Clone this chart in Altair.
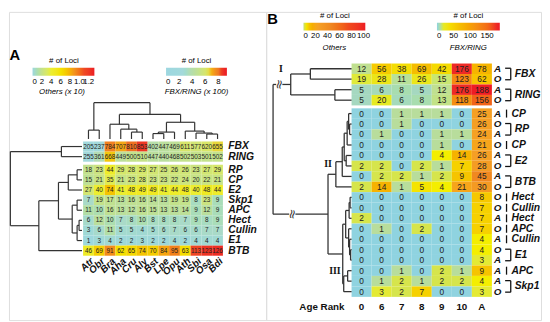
import altair as alt
import pandas as pd

FONT = "Liberation Sans"

# ================= Panel A : loci per species and family =================
A_species = ["Atr", "Obr", "Bra", "Aha", "Cru", "Aly", "Bst", "Lpe", "Opu", "Ath", "Sbi", "Osa", "Bdi"]
A_families = ["FBX", "RING", "RP", "CP", "E2", "Skp1", "APC", "Hect", "Cullin", "E1", "BTB"]
A_FBX = [205, 237, 784, 707, 810, 853, 402, 447, 469, 611, 577, 620, 655]
A_RING = [255, 361, 668, 449, 500, 510, 447, 440, 468, 502, 503, 501, 502]
A_RP = [18, 23, 44, 29, 28, 29, 27, 25, 26, 26, 23, 27, 29]
A_CP = [15, 21, 35, 21, 23, 28, 23, 23, 22, 24, 20, 22, 21]
A_E2 = [27, 40, 74, 41, 48, 49, 49, 41, 44, 48, 40, 48, 44]
A_Skp1 = [7, 19, 17, 13, 16, 16, 14, 13, 19, 19, 8, 23, 9]
A_APC = [11, 10, 16, 13, 12, 16, 15, 13, 13, 14, 9, 12, 9]
A_Hect = [6, 12, 10, 7, 8, 10, 8, 8, 8, 7, 9, 8, 9]
A_Cullin = [3, 6, 11, 5, 5, 4, 5, 6, 7, 6, 6, 7, 7]
A_E1 = [1, 3, 4, 2, 2, 3, 2, 2, 4, 2, 4, 4, 4]
A_BTB = [46, 69, 91, 62, 65, 74, 70, 84, 95, 63, 113, 123, 126]
A_counts = [A_FBX, A_RING, A_RP, A_CP, A_E2, A_Skp1, A_APC, A_Hect, A_Cullin, A_E1, A_BTB]

# clustering trees: leaf = index, node = (left, right, linkage distance)
A_row_tree = ((0, 1, 21),
              ((((2, 3, 5), 4, 14), ((5, 6, 5), ((7, 8, 3), 9, 5), 10), 24), 10, 44),
              73)
A_col_tree = ((0, 1, 9),
              ((2, (3, (4, 5, 7), 10), 15),
               (((6, 7, 5.5), 8, 7), (9, (10, (11, 12, 5), 6), 8), 17), 25),
              37)

# ================= Panel B : loci per age rank =================
B_age_rank = ["0", "6", "7", "8", "9", "10", "A"]
B_origin = ["A", "O", "A", "O", "A", "O", "A", "O", "A", "O", "A", "O",
            "O", "O", "A", "O", "A", "O", "A", "A", "A", "O"]
B_family = ["FBX", "FBX", "RING", "RING", "CP", "RP", "RP", "CP", "E2", "E2", "BTB", "BTB",
            "Hect", "Cullin", "Hect", "APC", "Cullin", "E1", "E1", "APC", "Skp1", "Skp1"]
B_counts = [
    [12, 56, 38, 69, 42, 176, 78],
    [19, 28, 11, 26, 15, 123, 62],
    [5, 6, 8, 5, 12, 176, 188],
    [5, 20, 6, 8, 13, 118, 156],
    [0, 0, 1, 1, 1, 0, 25],
    [0, 0, 1, 0, 0, 0, 26],
    [0, 1, 0, 0, 1, 1, 24],
    [0, 0, 0, 0, 1, 0, 21],
    [0, 0, 0, 0, 4, 14, 26],
    [2, 2, 0, 2, 1, 7, 28],
    [0, 2, 2, 1, 2, 9, 45],
    [2, 14, 1, 5, 4, 21, 30],
    [0, 0, 0, 0, 0, 0, 8],
    [0, 0, 0, 0, 0, 0, 7],
    [2, 0, 0, 0, 0, 0, 7],
    [0, 1, 0, 2, 0, 0, 7],
    [0, 0, 0, 0, 0, 0, 4],
    [0, 0, 0, 0, 0, 0, 4],
    [0, 0, 0, 0, 0, 0, 3],
    [0, 0, 1, 0, 2, 1, 9],
    [0, 1, 2, 1, 2, 2, 4],
    [0, 3, 2, 7, 0, 0, 3],
]
B_tree_I = ((0, 1, 42), (2, 3, 17), 62)
B_tree_II = (((((4, (5, 6, 2), 3), 7, 4.5), (8, 9, 5.5), 7.5), 10, 9.5), 11, 16)
B_tree_III = ((((12, 13, 1.5), 14, 2.5), (15, (16, (17, 18, 1), 2), 3), 6),
              ((19, 20, 4), 21, 8), 9)
B_tree_low = (B_tree_II, B_tree_III, 24)
B_tree = (B_tree_I, B_tree_low, 80)

# ================= layout =================
WA, WB, H = 262, 280, 314
A_XDOM, A_YDOM = [-6.89, 17.02], [-12.82, 17.67]
B_XDOM, B_YDOM = [-4.26, 9.45], [-4.93, 24.50]
A_GAP, B_GAP = 0.3, 0.28
A_KX, A_KY, B_K = 1 / 10.96, 1 / 10.3, 1 / 20.43
LINE = "#333333"

def a_top(i):
    return i + (A_GAP if i >= 2 else 0)

def b_top(i):
    return i + (B_GAP if i >= 4 else 0)

def walk(node, leafpos, segs):
    if isinstance(node, int):
        return leafpos(node), 0.0
    l, r, h = node
    pl, hl = walk(l, leafpos, segs)
    pr, hr = walk(r, leafpos, segs)
    segs += [(pl, pr, h, h), (pl, pl, hl, h), (pr, pr, hr, h)]
    return (pl + pr) / 2, h

def sc(dom, rev=False):
    return alt.Scale(domain=dom, nice=False, zero=False, reverse=rev)

def ax(f):
    return alt.X(f"{f}:Q", scale=sc(A_XDOM), axis=None)

def ay(f):
    return alt.Y(f"{f}:Q", scale=sc(A_YDOM, True), axis=None)

def bx(f):
    return alt.X(f"{f}:Q", scale=sc(B_XDOM), axis=None)

def by(f):
    return alt.Y(f"{f}:Q", scale=sc(B_YDOM, True), axis=None)

def leg(x, y, length, values, expr=None):
    kw = dict(orient="none", legendX=x, legendY=y, direction="horizontal", title="# of Loci",
              titleFontSize=8, titleFontWeight="normal", titleFont=FONT, titleAnchor="middle",
              titleOrient="top", titlePadding=3, titleColor="black",
              gradientLength=length, gradientThickness=8, gradientStrokeWidth=0,
              labelFontSize=8, labelFont=FONT, labelColor="black", labelOverlap=False,
              labelAlign="center", labelOffset=2, values=values)
    if expr:
        kw["labelExpr"] = expr
    return alt.Legend(**kw)

# ---------- panel A data frames ----------
recs = []
for i, (fam, vals) in enumerate(zip(A_families, A_counts)):
    t = a_top(i)
    for j, v in enumerate(vals):
        recs.append(dict(grp="FR" if i < 2 else "O", v=v, x=j, x2=j + 1, y=t, y2=t + 1,
                         xc=j + 0.5, yc=t + 0.5))
cellsA = pd.DataFrame(recs)

segs = []
walk(A_row_tree, lambda i: a_top(i) + 0.5, segs)
dendA_row = pd.DataFrame([dict(x=-(0.1 + h1 * A_KX), x2=-(0.1 + h2 * A_KX), y=p1, y2=p2)
                          for p1, p2, h1, h2 in segs])
segs = []
walk(A_col_tree, lambda j: j + 0.5, segs)
dendA_col = pd.DataFrame([dict(x=p1, x2=p2, y=-(0.25 + h1 * A_KY), y2=-(0.25 + h2 * A_KY))
                          for p1, p2, h1, h2 in segs])

rowlabA = pd.DataFrame(dict(t=A_families, x=13.5, y=[a_top(i) + 0.5 for i in range(len(A_families))]))
collabA = pd.DataFrame(dict(t=A_species, x=[j + 0.85 for j in range(len(A_species))], y=a_top(10) + 1.4))

A_O_DOM = [0, 7, 12, 25, 40, 60, 75, 90, 110, 132]
A_O_RANGE = ["#9dd7e0", "#a9dac8", "#bade9c", "#cfe47a", "#ecee30", "#f4e200", "#f5c200",
             "#f2901c", "#ef4a22", "#ec1c24"]
A_F_DOM = [0, 260, 360, 450, 560, 640, 670, 720, 800, 860, 930]
A_F_RANGE = ["#9dd7e0", "#a3d9db", "#b3dcb4", "#bcdf9c", "#cfe47a", "#dde660", "#f5c400",
             "#f39c1c", "#f07a22", "#ec2a24", "#ec1c24"]

rectA_o = alt.Chart(cellsA[cellsA.grp == "O"]).mark_rect().encode(
    x=ax("x"), x2="x2", y=ay("y"), y2="y2",
    color=alt.Color("v:Q", scale=alt.Scale(domain=A_O_DOM, range=A_O_RANGE, clamp=True),
                    legend=leg(24, 46, 63, [0, 20, 40, 60, 80, 100, 120],
                               "datum.value >= 100 ? format(datum.value / 100, '.1f') : format(datum.value / 10, 'd')")))
rectA_f = alt.Chart(cellsA[cellsA.grp == "FR"]).mark_rect().encode(
    x=ax("x"), x2="x2", y=ay("y"), y2="y2",
    color=alt.Color("v:Q", scale=alt.Scale(domain=A_F_DOM, range=A_F_RANGE, clamp=True),
                    legend=leg(160, 46, 62, [0, 200, 400, 600, 800], "format(datum.value / 100, 'd')")))
textA = alt.Chart(cellsA).mark_text(fontSize=6.5, color="#222222", font=FONT).encode(
    x=ax("xc"), y=ay("yc"), text="v:Q")
rowA = alt.Chart(rowlabA).mark_text(align="left", baseline="middle", fontSize=10.5, fontWeight="bold",
                                    fontStyle="italic", color="#111111", font=FONT).encode(
    x=ax("x"), y=ay("y"), text="t:N")
colA = alt.Chart(collabA).mark_text(align="right", baseline="middle", angle=315, fontSize=10,
                                    fontWeight="bold", fontStyle="italic", color="#111111", font=FONT).encode(
    x=ax("x"), y=ay("y"), text="t:N")
treeA1 = alt.Chart(dendA_row).mark_rule(color=LINE, strokeWidth=1.2).encode(
    x=ax("x"), x2="x2", y=ay("y"), y2="y2")
treeA2 = alt.Chart(dendA_col).mark_rule(color=LINE, strokeWidth=1.2).encode(
    x=ax("x"), x2="x2", y=ay("y"), y2="y2")
annA = pd.DataFrame([
    dict(t="Others (x 10)", x=-1.96, y=-4.85),
    dict(t="FBX/RING (x 100)", x=10.54, y=-4.85),
])
subA = alt.Chart(annA).mark_text(fontSize=8, fontStyle="italic", font=FONT, color="black").encode(
    x=ax("x"), y=ay("y"), text="t:N")
tagA = alt.Chart(pd.DataFrame(dict(t=["A"], x=[-6.85], y=[-8.55]))).mark_text(
    align="left", baseline="middle", fontSize=15, fontWeight="bold", font=FONT, color="black").encode(
    x=ax("x"), y=ay("y"), text="t:N")

panelA = alt.layer(rectA_o, rectA_f, textA, rowA, colA, treeA1, treeA2, subA, tagA).resolve_scale(
    color="independent").properties(width=WA, height=H)

# ---------- panel B data frames ----------
recs = []
for i, vals in enumerate(B_counts):
    t = b_top(i)
    for j, v in enumerate(vals):
        recs.append(dict(grp="FR" if i < 4 else "O", v=v, x=j, x2=j + 1, y=t, y2=t + 1,
                         xc=j + 0.5, yc=t + 0.5))
cellsB = pd.DataFrame(recs)

segs = []
walk(B_tree, lambda i: b_top(i) + 0.5, segs)
treeBdf = pd.DataFrame([dict(x=-(h1 * B_K), x2=-(h2 * B_K), y=p1, y2=p2) for p1, p2, h1, h2 in segs])

yI, hI = walk(B_tree_I, lambda i: b_top(i) + 0.5, [])
yII, hII = walk(B_tree_II, lambda i: b_top(i) + 0.5, [])
yIII, hIII = walk(B_tree_III, lambda i: b_top(i) + 0.5, [])
yLow, hLow = walk(B_tree_low, lambda i: b_top(i) + 0.5, [])
hRoot = B_tree[2]
breaks = pd.DataFrame([
    dict(x=-(hRoot - 0.35 * (hRoot - hI)) * B_K, y=yI),
    dict(x=-(hRoot - 0.35 * (hRoot - hLow)) * B_K, y=yLow),
])
clus = pd.DataFrame([
    dict(t="I", x=-hI * B_K - 0.49, y=yI - 1.5),
    dict(t="II", x=-hII * B_K - 0.39, y=yII - 1.0),
    dict(t="III", x=-hIII * B_K - 0.39, y=yIII + 1.6),
])

origB = pd.DataFrame(dict(t=B_origin, x=7.28, y=[b_top(i) + 0.5 for i in range(len(B_origin))]))

br_segs, names = [], []
i = 0
while i < len(B_family):
    if i + 1 < len(B_family) and B_family[i + 1] == B_family[i]:
        c = (b_top(i) + b_top(i + 1) + 1) / 2
        br_segs += [dict(x=7.94, x2=7.94, y=c - 0.55, y2=c + 0.55),
                    dict(x=7.66, x2=7.94, y=c - 0.55, y2=c - 0.55),
                    dict(x=7.66, x2=7.94, y=c + 0.55, y2=c + 0.55)]
        names.append(dict(t=B_family[i], x=8.14, y=c))
        i += 2
    else:
        c = b_top(i) + 0.5
        br_segs.append(dict(x=7.73, x2=7.73, y=c - 0.38, y2=c + 0.38))
        names.append(dict(t=B_family[i], x=7.98, y=c))
        i += 1
bracketB = pd.DataFrame(br_segs)
namesB = pd.DataFrame(names)

agelab = pd.DataFrame(dict(t=B_age_rank, x=[j + 0.5 for j in range(len(B_age_rank))], y=23.28))

B_O_DOM = [0, 1, 2, 4, 8, 15, 25, 45, 75, 103]
B_O_RANGE = ["#c6e07a", "#b8dd9c", "#d6e54c", "#f4ee00", "#f6c800", "#f6ae00", "#f5a025",
             "#f08820", "#f04a1c", "#ee1c24"]
B_F_DOM = [0, 5, 12, 20, 40, 70, 120, 155, 176, 188]
B_F_RANGE = ["#8ed4e2", "#a5d8c0", "#c0e090", "#e6ea24", "#f5dc00", "#f5bc00", "#f58c12",
             "#f26618", "#ee2a26", "#ee1c24"]

rectB_o = alt.Chart(cellsB[cellsB.grp == "O"]).mark_rect().encode(
    x=bx("x"), x2="x2", y=by("y"), y2="y2",
    color=alt.condition("datum.v == 0", alt.value("#8fd3e0"),
                        alt.Color("v:Q", scale=alt.Scale(domain=B_O_DOM, range=B_O_RANGE, clamp=True),
                                  legend=leg(38, 0, 63, [0, 20, 40, 60, 80, 100]))))
rectB_f = alt.Chart(cellsB[cellsB.grp == "FR"]).mark_rect().encode(
    x=bx("x"), x2="x2", y=by("y"), y2="y2",
    color=alt.Color("v:Q", scale=alt.Scale(domain=B_F_DOM, range=B_F_RANGE, clamp=True),
                    legend=leg(174, 0, 64, [0, 50, 100, 150])))
textB = alt.Chart(cellsB).mark_text(fontSize=8.5, color="#222222", font=FONT).encode(
    x=bx("xc"), y=by("yc"), text="v:Q")
treeB = alt.Chart(treeBdf).mark_rule(color=LINE, strokeWidth=1.3).encode(
    x=bx("x"), x2="x2", y=by("y"), y2="y2")
breakBg = alt.Chart(breaks).mark_point(shape="square", filled=True, color="white", opacity=1, size=40).encode(
    x=bx("x"), y=by("y"))
breakSym = alt.Chart(breaks).mark_text(text="≈", angle=100, fontSize=13, color=LINE, font="DejaVu Sans").encode(
    x=bx("x"), y=by("y"))
clusB = alt.Chart(clus).mark_text(fontSize=10, fontWeight="bold", font="Liberation Serif", color="#111111").encode(
    x=bx("x"), y=by("y"), text="t:N")
origTxt = alt.Chart(origB).mark_text(fontSize=10, fontWeight="bold", fontStyle="italic", font=FONT,
                                     color="#111111").encode(x=bx("x"), y=by("y"), text="t:N")
brRule = alt.Chart(bracketB).mark_rule(color="#111111", strokeWidth=1.3).encode(
    x=bx("x"), x2="x2", y=by("y"), y2="y2")
nameTxt = alt.Chart(namesB).mark_text(align="left", fontSize=10.5, fontWeight="bold", fontStyle="italic",
                                      font=FONT, color="#111111").encode(x=bx("x"), y=by("y"), text="t:N")
ageTxt = alt.Chart(agelab).mark_text(fontSize=10, fontWeight="bold", font=FONT, color="#111111").encode(
    x=bx("x"), y=by("y"), text="t:N")
ageTitle = alt.Chart(pd.DataFrame(dict(t=["Age Rank"], x=[-0.35], y=[23.28]))).mark_text(
    align="right", fontSize=10, fontWeight="bold", font=FONT, color="#111111").encode(
    x=bx("x"), y=by("y"), text="t:N")
annB = pd.DataFrame([
    dict(t="Others", x=-0.86, y=-1.45),
    dict(t="FBX/RING", x=5.82, y=-1.45),
])
subB = alt.Chart(annB).mark_text(fontSize=8, fontStyle="italic", font=FONT, color="black").encode(
    x=bx("x"), y=by("y"), text="t:N")
tagB = alt.Chart(pd.DataFrame(dict(t=["B"], x=[-4.2], y=[-4.93]))).mark_text(
    align="left", baseline="top", fontSize=15, fontWeight="bold", font=FONT, color="black").encode(
    x=bx("x"), y=by("y"), text="t:N")

panelB = alt.layer(rectB_o, rectB_f, textB, treeB, breakBg, breakSym, clusB, origTxt, brRule, nameTxt,
                   ageTxt, ageTitle, subB, tagB).resolve_scale(color="independent").properties(width=WB, height=H)

chart = alt.hconcat(panelA, panelB, spacing=0, bounds="flush").resolve_scale(
    x="independent", y="independent", color="independent").properties(padding=0).configure_view(
    stroke=None).configure(font=FONT)

chart.save("out.html", embed_options={"renderer": "svg", "actions": False})
